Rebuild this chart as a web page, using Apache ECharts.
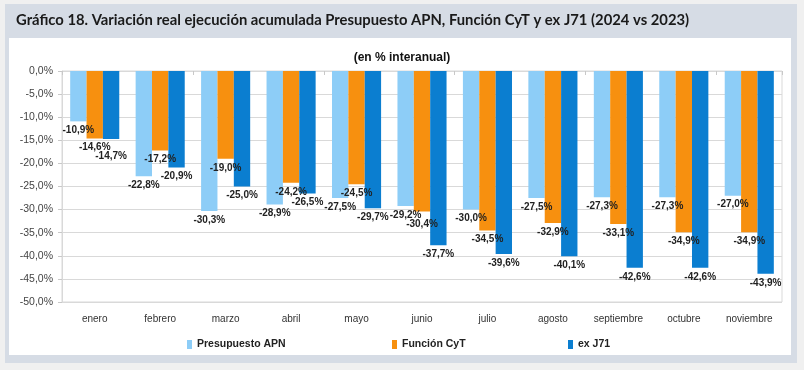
<!DOCTYPE html>
<html>
<head>
<meta charset="utf-8">
<script src="https://cdn.jsdelivr.net/npm/echarts@6/dist/echarts.min.js"></script>
<style>
html,body{margin:0;padding:0;background:#f0f0f0;}
#c{width:804px;height:370px;}
</style>
</head>
<body>
<div id="c"></div>
<script>
var categories = ['enero','febrero','marzo','abril','mayo','junio','julio','agosto','septiembre','octubre','noviembre'];
var presupuestoAPN = [-10.9,-22.8,-30.3,-28.9,-27.5,-29.2,-30.0,-27.5,-27.3,-27.3,-27.0];
var funcionCyT = [-14.6,-17.2,-19.0,-24.2,-24.5,-30.4,-34.5,-32.9,-33.1,-34.9,-34.9];
var exJ71 = [-14.7,-20.9,-25.0,-26.5,-29.7,-37.7,-39.6,-40.1,-42.6,-42.6,-43.9];
var seriesNames = ['Presupuesto APN','Función CyT','ex J71'];
var colors = ['#8DCDF7','#F7900F','#0B7ED0'];

function fmt(v){ return v.toFixed(1).replace('.', ',') + '%'; }

var chart = echarts.init(document.getElementById('c'), null, {renderer:'canvas'});
var labelStyle = {
  show:true, position:'bottom', distance:4,
  formatter:function(p){ return fmt(p.value); },
  fontFamily:'Liberation Sans, Arial, sans-serif', fontWeight:'bold', fontSize:10, color:'#222'
};
var allData = [presupuestoAPN, funcionCyT, exJ71];
function buildSeries(offsets){
  return allData.map(function(d,i){
    return {
      name: seriesNames[i], type:'bar',
      data: d.map(function(v,j){
        var o = offsets ? offsets[i][j] : 0;
        return o ? {value:v, label:{offset:[0,o]}} : v;
      }),
      barGap:'0%', barCategoryGap:'25%',
      itemStyle:{color:colors[i]},
      label: labelStyle
    };
  });
}
var legendLeft = [182, 387, 563];
var legends = seriesNames.map(function(n,i){
  return {
    data:[n], left:legendLeft[i], top:334, itemWidth:5, itemHeight:9,
    icon:'rect', itemGap:4,
    textStyle:{fontFamily:'Liberation Sans, Arial, sans-serif', fontWeight:'bold', fontSize:10.5, color:'#222'}
  };
});

chart.setOption({
  animation:false,
  backgroundColor:'#f0f0f0',
  graphic:[
    {type:'rect', left:5, top:4, shape:{width:792, height:359}, style:{fill:'#d6dce5'}, z:-10},
    {type:'rect', left:9, top:38, shape:{width:782, height:317}, style:{fill:'#ffffff'}, z:-9},
    {type:'text', left:16, top:13, style:{text:'Gráfico 18. Variación real ejecución acumulada Presupuesto APN, Función CyT y ex J71 (2024 vs 2023)', fontFamily:'Lato, sans-serif', fontWeight:'bold', fontSize:14.8, fill:'#1a1a1a'}},
    {type:'text', left:'center', top:52, style:{text:'(en % interanual)', fontFamily:'Liberation Sans, Arial, sans-serif', fontWeight:'bold', fontSize:12, fill:'#111'}}
  ],
  legend: legends,
  grid:{left:62, right:22, top:71, bottom:68, show:true, borderColor:'#d9d9d9', borderWidth:1},
  xAxis:[{
    type:'category', data:categories, position:'bottom',
    axisLine:{show:false}, axisTick:{show:false},
    axisLabel:{margin:12, fontFamily:'Liberation Sans, Arial, sans-serif', fontSize:10, color:'#333'}
  },{
    type:'category', data:categories, position:'top',
    axisLine:{show:true, lineStyle:{color:'#d9d9d9'}},
    axisTick:{show:true, inside:true, length:4, lineStyle:{color:'#c8c8c8'}},
    axisLabel:{show:false}
  }],
  yAxis:{
    type:'value', min:-50, max:0, interval:5,
    axisLine:{show:true, lineStyle:{color:'#d9d9d9'}},
    axisTick:{show:true, length:4, lineStyle:{color:'#c8c8c8'}},
    splitLine:{lineStyle:{color:'#d9d9d9'}},
    axisLabel:{formatter:fmt, fontFamily:'Liberation Sans, Arial, sans-serif', fontSize:10.5, color:'#444', margin:9}
  },
  series: buildSeries(null)
});

// avoid overlapping labels between neighbouring bars: push the later label down
var minSep = 9;
var offsets = allData.map(function(d){ return d.map(function(){ return 0; }); });
for (var j = 0; j < categories.length; j++) {
  var prevY = null;
  for (var i = 0; i < allData.length; i++) {
    var y = chart.convertToPixel({yAxisIndex:0}, allData[i][j]);
    if (prevY !== null && Math.abs(y - prevY) < minSep) {
      offsets[i][j] = prevY + minSep - y;
      y = prevY + minSep;
    }
    prevY = y;
  }
}
chart.setOption({series: buildSeries(offsets)});
</script>
</body>
</html>
